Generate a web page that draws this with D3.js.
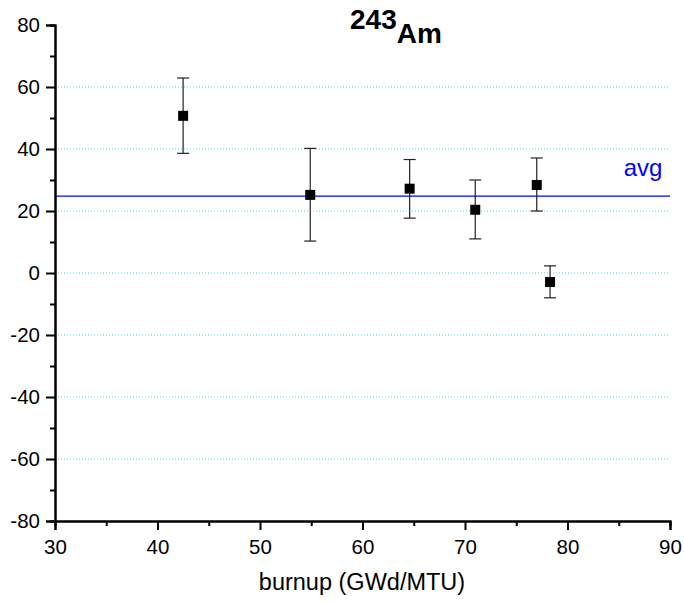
<!DOCTYPE html>
<html>
<head>
<meta charset="utf-8">
<script src="https://cdn.jsdelivr.net/npm/d3@7"></script>
<style>
  body { margin: 0; background: #fff; }
  text { font-family: "Liberation Sans", Arial, sans-serif; }
</style>
</head>
<body>
<svg width="684" height="603"></svg>
<script>
// data
var burnup = [42.5, 54.9, 64.6, 71.0, 77.0, 78.3];
var diff   = [50.7, 25.2, 27.2, 20.4, 28.4, -2.9];
var errHi  = [62.9, 40.2, 36.6, 30.0, 37.1, 2.3];
var errLo  = [38.6, 10.3, 17.7, 11.0, 20.0, -8.0];
var avg = 24.8;
var gridVals = [60, 40, 20, 0, -20, -40, -60];

var svg = d3.select('svg');

var x = d3.scaleLinear().domain([30, 90]).range([55, 670]);
var y = d3.scaleLinear().domain([-80, 80]).range([521, 25]);

// dotted grid
svg.selectAll('.grid')
  .data(gridVals)
  .enter().append('line')
    .attr('x1', x(30)).attr('x2', x(90))
    .attr('y1', d => y(d)).attr('y2', d => y(d))
    .attr('stroke', '#33e0e6')
    .attr('stroke-width', 1)
    .attr('stroke-dasharray', '1,2');

// avg line
svg.append('line')
  .attr('x1', x(30)).attr('x2', x(90))
  .attr('y1', y(avg)).attr('y2', y(avg))
  .attr('stroke', '#0000ff').attr('stroke-width', 1.2);
svg.append('text')
  .attr('x', 643).attr('y', 176)
  .attr('text-anchor', 'middle')
  .attr('font-size', 24)
  .attr('fill', '#0000ff')
  .text('avg');

// axes
var fmt = d => String(d);
var xAxis = d3.axisBottom(x).tickValues(d3.range(30, 91, 10)).tickSize(9).tickPadding(9).tickFormat(fmt);
var xMinor = d3.axisBottom(x).tickValues(d3.range(35, 90, 10)).tickSize(5).tickFormat('');
var yAxis = d3.axisLeft(y).tickValues(d3.range(-80, 81, 20)).tickSize(9).tickPadding(6).tickFormat(fmt);
var yMinor = d3.axisLeft(y).tickValues(d3.range(-70, 80, 20)).tickSize(5).tickFormat('');

function styleAxis(g) {
  g.select('.domain').attr('stroke-width', 2);
  g.selectAll('.tick line').attr('stroke-width', 2);
  g.selectAll('text').attr('font-size', 20.5).attr('fill', '#000')
    .style('font-family', '"Liberation Sans", Arial, sans-serif');
}

svg.append('g').attr('transform', 'translate(0,' + y(-80) + ')').call(xMinor).call(styleAxis);
svg.append('g').attr('transform', 'translate(0,' + y(-80) + ')').call(xAxis).call(styleAxis);
svg.append('g').attr('transform', 'translate(' + x(30) + ',0)').call(yMinor).call(styleAxis);
svg.append('g').attr('transform', 'translate(' + x(30) + ',0)').call(yAxis).call(styleAxis);

// error bars
var pts = burnup.map((b, i) => ({x: b, y: diff[i], hi: errHi[i], lo: errLo[i]}));
var eb = svg.selectAll('.eb').data(pts).enter().append('g');
eb.append('line')
  .attr('x1', d => x(d.x)).attr('x2', d => x(d.x))
  .attr('y1', d => y(d.hi)).attr('y2', d => y(d.lo))
  .attr('stroke', '#222').attr('stroke-width', 1.2);
eb.append('line')
  .attr('x1', d => x(d.x) - 6).attr('x2', d => x(d.x) + 6)
  .attr('y1', d => y(d.hi)).attr('y2', d => y(d.hi))
  .attr('stroke', '#222').attr('stroke-width', 1.2);
eb.append('line')
  .attr('x1', d => x(d.x) - 6).attr('x2', d => x(d.x) + 6)
  .attr('y1', d => y(d.lo)).attr('y2', d => y(d.lo))
  .attr('stroke', '#222').attr('stroke-width', 1.2);
eb.append('rect')
  .attr('x', d => x(d.x) - 5).attr('y', d => y(d.y) - 5)
  .attr('width', 10).attr('height', 10)
  .attr('fill', '#000');

// title
var title = svg.append('text')
  .attr('x', 350).attr('y', 43)
  .attr('font-weight', 'bold');
title.append('tspan').attr('font-size', 28).attr('dy', -14).text('243');
title.append('tspan').attr('font-size', 28).attr('dy', 14).text('Am');

// x label
svg.append('text')
  .attr('x', 362).attr('y', 590)
  .attr('text-anchor', 'middle')
  .attr('font-size', 23.5)
  .text('burnup (GWd/MTU)');
</script>
</body>
</html>
